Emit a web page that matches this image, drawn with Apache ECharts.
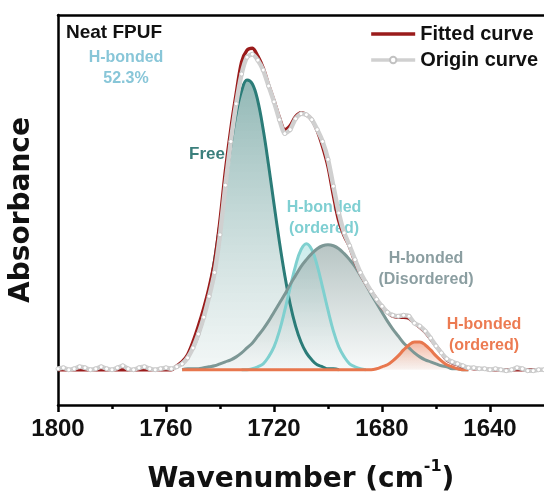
<!DOCTYPE html>
<html lang="en">
<head>
  <meta charset="UTF-8">
  <title>Neat FPUF</title>
  <style>
    html, body { margin: 0; padding: 0; background: #fff; }
  </style>
</head>
<body>
  <div id="main" style="width: 544px; height: 499px;"></div>
  <script src="https://cdn.jsdelivr.net/npm/echarts@6/dist/echarts.min.js"></script>
  <script type="text/javascript">
    // wavenumber grid of the measured / fitted spectrum (cm-1)
    var wavenumbers = [
      1800, 1798, 1796, 1794, 1792, 1790, 1788, 1786, 1784, 1782,
      1780, 1778, 1776, 1774, 1772, 1770, 1768, 1766, 1764, 1762,
      1760, 1758, 1756, 1754, 1752, 1750, 1748, 1746, 1744, 1742,
      1740, 1738, 1736, 1734, 1732, 1730, 1728, 1726, 1724, 1722,
      1720, 1718, 1716, 1714, 1712, 1710, 1708, 1706, 1704, 1702,
      1700, 1698, 1696, 1694, 1692, 1690, 1688, 1686, 1684, 1682,
      1680, 1678, 1676, 1674, 1672, 1670, 1668, 1666, 1664, 1662,
      1660, 1658, 1656, 1654, 1652, 1650, 1648, 1646, 1644, 1642,
      1640, 1638, 1636, 1634, 1632, 1630, 1628, 1626, 1624, 1622,
      1620
    ];

    var fittedCurve = [
      0, 0, 0, 0, 0, 0, 0, 0, 0, 0,
      0, 0, 0, 0, 0, 0, 0, 0, 0, 0,
      0, 0, 0.04, 0.08, 0.15, 0.28, 0.44, 0.62, 0.83, 1.09,
      1.50, 2.00, 2.42, 2.78, 3.10, 3.22, 3.24, 3.16, 3.04, 2.87,
      2.71, 2.54, 2.42, 2.46, 2.55, 2.59, 2.57, 2.52, 2.41, 2.25,
      2.05, 1.76, 1.50, 1.35, 1.24, 1.09, 0.97, 0.87, 0.79, 0.71,
      0.63, 0.58, 0.54, 0.53, 0.53, 0.52, 0.47, 0.43, 0.38, 0.31,
      0.24, 0.17, 0.10, 0.07, 0.05, 0.03, 0.02, 0.01, 0.01, 0.01,
      0, 0, 0, 0, 0, 0, 0, 0, 0, 0,
      0
    ];

    var originCurve = [
      0.01, 0.02, 0.00, 0.01, 0.03, 0.02, 0.00, 0.01, 0.03, 0.01,
      0.00, 0.02, 0.04, 0.01, 0.00, 0.02, 0.03, 0.01, 0.00, 0.01,
      0.02, 0.01, 0.03, 0.06, 0.12, 0.22, 0.36, 0.53, 0.74, 0.98,
      1.36, 1.86, 2.30, 2.68, 2.98, 3.15, 3.18, 3.12, 3.02, 2.86,
      2.70, 2.52, 2.38, 2.42, 2.53, 2.58, 2.57, 2.52, 2.42, 2.30,
      2.12, 1.85, 1.58, 1.38, 1.25, 1.11, 0.98, 0.88, 0.79, 0.71,
      0.64, 0.58, 0.55, 0.54, 0.55, 0.54, 0.47, 0.44, 0.39, 0.32,
      0.24, 0.17, 0.11, 0.08, 0.06, 0.04, 0.02, 0.02, 0.01, 0.01,
      0.00, 0.01, 0.00, -0.01, 0.00, 0.02, 0.01, -0.01, -0.01, 0.00,
      0.00
    ];

    // wavenumber grid of the fitted component peaks (null = not drawn)
    var peakWavenumbers = [
      1754, 1752, 1750, 1748, 1746, 1744, 1742, 1740, 1738, 1736,
      1734, 1732, 1730, 1728, 1726, 1724, 1722, 1720, 1718, 1716,
      1714, 1712, 1710, 1708, 1706, 1704, 1702, 1700, 1698, 1696,
      1694, 1692, 1690, 1688, 1686, 1684, 1682, 1680, 1678, 1676,
      1674, 1672, 1670, 1668, 1666, 1664, 1662, 1660, 1658, 1656,
      1654, 1652, 1650, 1648
    ];

    var freePeak = [
      0.05, 0.13, 0.22, 0.35, 0.54, 0.80, 1.11, 1.48, 1.87, 2.25,
      2.58, 2.81, 2.92, 2.88, 2.71, 2.42, 2.06, 1.67, 1.29, 0.95,
      0.66, 0.44, 0.28, 0.17, 0.10, 0.05, 0.03, 0.01, 0.01, 0,
      null, null, null, null, null, null, null, null, null, null,
      null, null, null, null, null, null, null, null, null, null,
      null, null, null, null
    ];

    var orderedPeak = [
      null, null, null, null, null, null, null, null, null, null,
      null, 0, 0, 0.01, 0.03, 0.06, 0.13, 0.23, 0.39, 0.60,
      0.83, 1.05, 1.21, 1.27, 1.21, 1.05, 0.83, 0.60, 0.39, 0.23,
      0.13, 0.06, 0.03, 0.01, 0, null, null, null, null, null,
      null, null, null, null, null, null, null, null, null, null,
      null, null, null, null
    ];

    var disorderedPeak = [
      0.00, 0.01, 0.01, 0.01, 0.02, 0.03, 0.04, 0.06, 0.08, 0.10,
      0.13, 0.17, 0.22, 0.27, 0.34, 0.41, 0.49, 0.58, 0.67, 0.76,
      0.86, 0.95, 1.04, 1.11, 1.17, 1.22, 1.25, 1.26, 1.25, 1.22,
      1.17, 1.11, 1.04, 0.95, 0.86, 0.76, 0.67, 0.58, 0.49, 0.41,
      0.34, 0.27, 0.22, 0.17, 0.13, 0.10, 0.08, 0.06, 0.04, 0.03,
      0.01, 0.01, 0, 0
    ];

    var ordered2Peak = [
      0, 0, 0, 0, 0, 0, 0, 0, 0, 0,
      0, 0, 0, 0, 0, 0, 0, 0, 0, 0,
      0, 0, 0, 0, 0, 0, 0, 0, 0, 0,
      0, 0, 0, 0, 0, 0, 0.01, 0.03, 0.05, 0.09,
      0.14, 0.20, 0.25, 0.28, 0.28, 0.25, 0.20, 0.14, 0.09, 0.05,
      0.03, 0.01, 0, 0
    ];

    var majorTicks = [1640, 1680, 1720, 1760, 1800];
    var minorTicks = [1660, 1700, 1740, 1780];

    var myChart = echarts.init(document.getElementById('main'));

    function pairs(xs, ys) {
      return xs.map(function (x, i) { return [x, ys[i]]; });
    }

    function fade(top, bottom) {
      return new echarts.graphic.LinearGradient(0, 0, 0, 1, [
        { offset: 0, color: top },
        { offset: 1, color: bottom }
      ]);
    }

    function peakSeries(name, values, lineColor, fill) {
      return {
        name: name,
        type: 'line',
        data: pairs(peakWavenumbers, values),
        smooth: 0.4,
        symbol: 'none',
        lineStyle: { color: lineColor, width: 3 },
        areaStyle: { color: fill },
        silent: true
      };
    }

    var labelFont = 'bold 16px "Liberation Sans", Arial, sans-serif';

    var option = {
      animation: false,
      grid: { left: 58, right: 0, top: 15, bottom: 92 },
      legend: {
        data: [
          { name: 'Fitted curve', itemStyle: { opacity: 0 } },
          { name: 'Origin curve' }
        ],
        orient: 'vertical',
        right: 6,
        top: 24,
        padding: 0,
        itemWidth: 44,
        itemHeight: 8,
        itemGap: 6,
        lineStyle: { width: 3.5 },
        textStyle: {
          fontFamily: 'Liberation Sans',
          fontWeight: 'bold',
          fontSize: 20,
          color: '#111'
        }
      },
      xAxis: [{
        type: 'value',
        inverse: true,
        min: 1620,
        max: 1800,
        position: 'bottom',
        axisLine: { onZero: false, lineStyle: { color: '#000', width: 2.5 } },
        axisTick: { customValues: majorTicks, length: 7, lineStyle: { color: '#000', width: 2.5 } },
        axisLabel: {
          customValues: majorTicks,
          formatter: function (v) { return String(v); },
          margin: 12,
          fontSize: 24,
          fontWeight: 'bold',
          fontFamily: 'Liberation Sans',
          color: '#111'
        },
        splitLine: { show: false },
        name: '{a|Wavenumber (cm}{s|-1}{a|)}',
        nameLocation: 'middle',
        nameGap: 54,
        nameTextStyle: {
          rich: {
            a: { fontFamily: 'DejaVu Sans', fontWeight: 'bold', fontSize: 28, lineHeight: 42, color: '#111' },
            s: { fontFamily: 'DejaVu Sans', fontWeight: 'bold', fontSize: 16, verticalAlign: 'top', color: '#111' }
          }
        }
      }, {
        type: 'value',
        inverse: true,
        min: 1620,
        max: 1800,
        position: 'bottom',
        axisLine: { show: false, onZero: false },
        axisTick: { customValues: minorTicks, length: 4, lineStyle: { color: '#000', width: 2.5 } },
        axisLabel: { show: false },
        splitLine: { show: false }
      }, {
        type: 'value',
        inverse: true,
        min: 1620,
        max: 1800,
        position: 'top',
        axisLine: { onZero: false, lineStyle: { color: '#000', width: 2.5 } },
        axisTick: { show: false },
        axisLabel: { show: false },
        splitLine: { show: false }
      }],
      yAxis: {
        type: 'value',
        min: -0.355,
        max: 3.575,
        axisLine: { show: true, onZero: false, lineStyle: { color: '#000', width: 2.5 } },
        axisTick: { show: false },
        axisLabel: { show: false },
        splitLine: { show: false },
        name: 'Absorbance',
        nameLocation: 'middle',
        nameRotate: 90,
        nameGap: 22,
        nameTextStyle: {
          fontFamily: 'DejaVu Sans',
          fontWeight: 'bold',
          fontSize: 28,
          color: '#111'
        }
      },
      graphic: [
        { type: 'text', x: 66, y: 33, style: { text: 'Neat FPUF', fill: '#111', font: 'bold 19px "Liberation Sans", Arial, sans-serif', textVerticalAlign: 'middle' } },
        { type: 'text', x: 126, y: 68, style: { text: 'H-bonded\n52.3%', fill: '#88c6d8', font: labelFont, lineHeight: 21, textAlign: 'center', textVerticalAlign: 'middle' } },
        { type: 'text', x: 207, y: 154, style: { text: 'Free', fill: '#3b7f7c', font: 'bold 17px "Liberation Sans", Arial, sans-serif', textAlign: 'center', textVerticalAlign: 'middle' } },
        { type: 'text', x: 324, y: 218, style: { text: 'H-bonded\n(ordered)', fill: '#7fcfd2', font: labelFont, lineHeight: 21, textAlign: 'center', textVerticalAlign: 'middle' } },
        { type: 'text', x: 426, y: 269, style: { text: 'H-bonded\n(Disordered)', fill: '#8b9ea1', font: labelFont, lineHeight: 21, textAlign: 'center', textVerticalAlign: 'middle' } },
        { type: 'text', x: 484, y: 335, style: { text: 'H-bonded\n(ordered)', fill: '#ec7b52', font: labelFont, lineHeight: 21, textAlign: 'center', textVerticalAlign: 'middle' } }
      ],
      series: [
        peakSeries('Free', freePeak, '#2b7c78', fade('rgba(60,128,124,0.8)', 'rgba(225,236,235,0.6)')),
        peakSeries('H-bonded (ordered)', orderedPeak, '#7fd0cf', fade('rgba(120,205,204,0.55)', 'rgba(235,247,247,0.4)')),
        peakSeries('H-bonded (Disordered)', disorderedPeak, '#7c9795', fade('rgba(135,158,156,0.85)', 'rgba(244,247,247,0.85)')),
        peakSeries('H-bonded (ordered) 1667', ordered2Peak, '#e8774e', fade('rgba(232,112,70,0.75)', 'rgba(250,230,222,0.5)')),
        {
          name: 'Fitted curve',
          type: 'line',
          data: pairs(wavenumbers, fittedCurve),
          smooth: 0.3,
          symbol: 'none',
          lineStyle: { color: '#9a1b1b', width: 3.5 },
          itemStyle: { color: '#9a1b1b' }
        },
        {
          name: 'Origin curve',
          type: 'line',
          data: pairs(wavenumbers, originCurve),
          smooth: 0.2,
          showAllSymbol: true,
          symbol: 'circle',
          symbolSize: 4,
          lineStyle: { color: '#d0d0d0', width: 4.5 },
          itemStyle: { color: '#ffffff', borderColor: '#c2c2c2', borderWidth: 0.8 }
        }
      ]
    };

    myChart.setOption(option);
  </script>
</body>
</html>
